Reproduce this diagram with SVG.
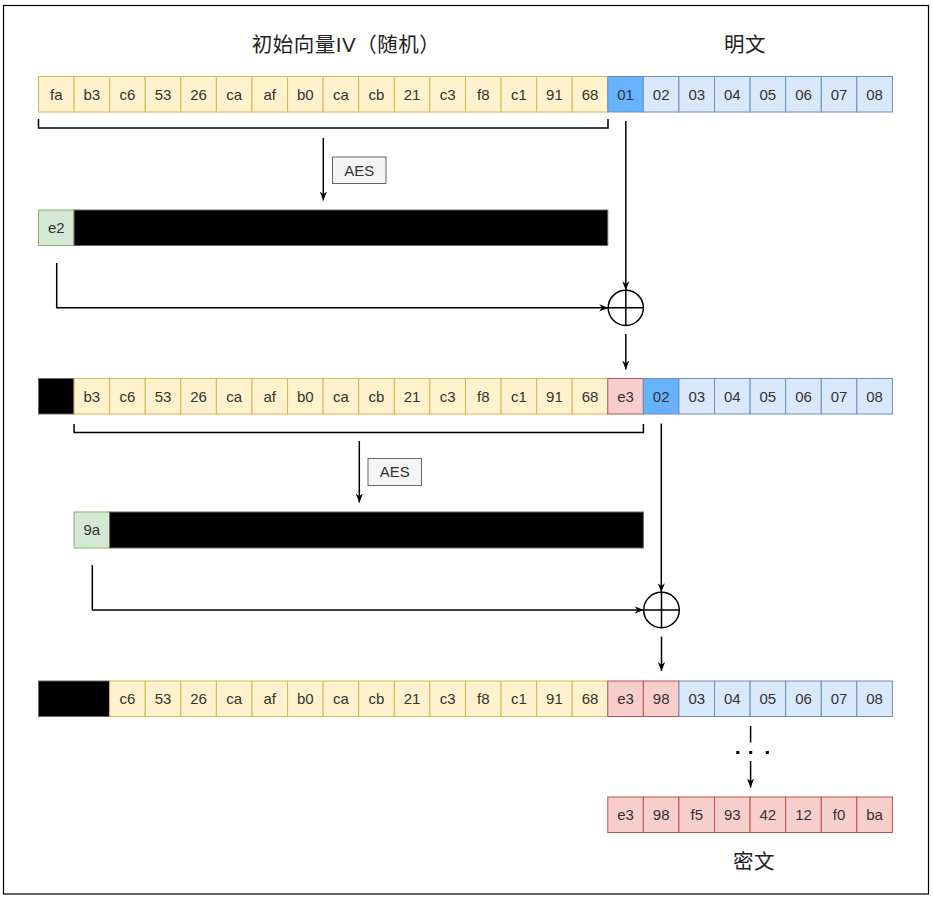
<svg xmlns="http://www.w3.org/2000/svg" width="933" height="897" viewBox="0 0 933 897">
<style>
.y{fill:#fff2cc;stroke:#d6b656;stroke-width:1}
.b{fill:#dae8fc;stroke:#6c8ebf;stroke-width:1}
.d{fill:#66b2ff;stroke:#6c8ebf;stroke-width:1}
.r{fill:#f8cecc;stroke:#b85450;stroke-width:1}
.g{fill:#d5e8d4;stroke:#82b366;stroke-width:1}
.k{fill:#000000;stroke:#666666;stroke-width:1}
.a{fill:#f5f5f5;stroke:#666666;stroke-width:1}
text{font-family:"Liberation Sans","Noto Sans CJK SC",sans-serif;fill:#333333}
.t{font-size:15px;text-anchor:middle}
.h{font-size:20.5px;text-anchor:middle;fill:#222222;letter-spacing:0.5px}
.c{fill:none;stroke:#000000;stroke-width:1.5}
.x{fill:#ffffff;stroke:#000000;stroke-width:1.5}
</style>
<defs>
<marker id="arr" markerUnits="userSpaceOnUse" viewBox="0 0 10 8" refX="10" refY="4" markerWidth="9" markerHeight="7.5" orient="auto">
<path d="M0,0 L10,4 L0,8 L3,4 z" fill="#000000"/>
</marker>
</defs>
<rect x="3.5" y="5.5" width="925" height="888.5" fill="#ffffff" stroke="#000000" stroke-width="1.2"/>

<g id="labels">
<text class="h" x="346" y="52">初始向量IV（随机）</text>
<text class="h" x="745" y="52">明文</text>
<text class="h" x="754" y="869">密文</text>
</g>

<g id="row1">
<g id="r1c0"><rect class="y" x="38.5" y="76.5" width="35.58" height="35.5"/><text class="t" x="56.29" y="99.5">fa</text></g>
<g id="r1c1"><rect class="y" x="74.08" y="76.5" width="35.58" height="35.5"/><text class="t" x="91.87" y="99.5">b3</text></g>
<g id="r1c2"><rect class="y" x="109.66" y="76.5" width="35.58" height="35.5"/><text class="t" x="127.45" y="99.5">c6</text></g>
<g id="r1c3"><rect class="y" x="145.24" y="76.5" width="35.58" height="35.5"/><text class="t" x="163.03" y="99.5">53</text></g>
<g id="r1c4"><rect class="y" x="180.82" y="76.5" width="35.58" height="35.5"/><text class="t" x="198.61" y="99.5">26</text></g>
<g id="r1c5"><rect class="y" x="216.4" y="76.5" width="35.58" height="35.5"/><text class="t" x="234.19" y="99.5">ca</text></g>
<g id="r1c6"><rect class="y" x="251.98" y="76.5" width="35.58" height="35.5"/><text class="t" x="269.77" y="99.5">af</text></g>
<g id="r1c7"><rect class="y" x="287.56" y="76.5" width="35.58" height="35.5"/><text class="t" x="305.35" y="99.5">b0</text></g>
<g id="r1c8"><rect class="y" x="323.14" y="76.5" width="35.58" height="35.5"/><text class="t" x="340.93" y="99.5">ca</text></g>
<g id="r1c9"><rect class="y" x="358.72" y="76.5" width="35.58" height="35.5"/><text class="t" x="376.51" y="99.5">cb</text></g>
<g id="r1c10"><rect class="y" x="394.3" y="76.5" width="35.58" height="35.5"/><text class="t" x="412.09" y="99.5">21</text></g>
<g id="r1c11"><rect class="y" x="429.88" y="76.5" width="35.58" height="35.5"/><text class="t" x="447.67" y="99.5">c3</text></g>
<g id="r1c12"><rect class="y" x="465.46" y="76.5" width="35.58" height="35.5"/><text class="t" x="483.25" y="99.5">f8</text></g>
<g id="r1c13"><rect class="y" x="501.04" y="76.5" width="35.58" height="35.5"/><text class="t" x="518.83" y="99.5">c1</text></g>
<g id="r1c14"><rect class="y" x="536.62" y="76.5" width="35.58" height="35.5"/><text class="t" x="554.41" y="99.5">91</text></g>
<g id="r1c15"><rect class="y" x="572.2" y="76.5" width="35.58" height="35.5"/><text class="t" x="589.99" y="99.5">68</text></g>
<g id="r1c16"><rect class="d" x="607.78" y="76.5" width="35.58" height="35.5"/><text class="t" x="625.57" y="99.5">01</text></g>
<g id="r1c17"><rect class="b" x="643.36" y="76.5" width="35.58" height="35.5"/><text class="t" x="661.15" y="99.5">02</text></g>
<g id="r1c18"><rect class="b" x="678.94" y="76.5" width="35.58" height="35.5"/><text class="t" x="696.73" y="99.5">03</text></g>
<g id="r1c19"><rect class="b" x="714.52" y="76.5" width="35.58" height="35.5"/><text class="t" x="732.31" y="99.5">04</text></g>
<g id="r1c20"><rect class="b" x="750.1" y="76.5" width="35.58" height="35.5"/><text class="t" x="767.89" y="99.5">05</text></g>
<g id="r1c21"><rect class="b" x="785.68" y="76.5" width="35.58" height="35.5"/><text class="t" x="803.47" y="99.5">06</text></g>
<g id="r1c22"><rect class="b" x="821.26" y="76.5" width="35.58" height="35.5"/><text class="t" x="839.05" y="99.5">07</text></g>
<g id="r1c23"><rect class="b" x="856.84" y="76.5" width="35.58" height="35.5"/><text class="t" x="874.63" y="99.5">08</text></g>
</g>

<g id="aes1"><rect class="a" x="332.5" y="157" width="53.5" height="26.5"/><text class="t" x="359.25" y="175.5">AES</text></g>

<g id="ks1">
<g id="ks1e2"><rect class="g" x="38.5" y="210" width="35.58" height="35.5"/><text class="t" x="56.29" y="233">e2</text></g>
<g id="ks1black"><rect class="k" x="74.08" y="210" width="533.7" height="35.5"/></g>
</g>

<g id="xor1"><circle class="x" cx="625.8" cy="307.8" r="17.6"/><path class="c" d="M608.2,307.8 H643.4 M625.8,290.2 V325.4"/></g>

<g id="row2">
<g id="r2c0"><rect class="k" x="38.5" y="378.5" width="35.58" height="35.5"/></g>
<g id="r2c1"><rect class="y" x="74.08" y="378.5" width="35.58" height="35.5"/><text class="t" x="91.87" y="401.5">b3</text></g>
<g id="r2c2"><rect class="y" x="109.66" y="378.5" width="35.58" height="35.5"/><text class="t" x="127.45" y="401.5">c6</text></g>
<g id="r2c3"><rect class="y" x="145.24" y="378.5" width="35.58" height="35.5"/><text class="t" x="163.03" y="401.5">53</text></g>
<g id="r2c4"><rect class="y" x="180.82" y="378.5" width="35.58" height="35.5"/><text class="t" x="198.61" y="401.5">26</text></g>
<g id="r2c5"><rect class="y" x="216.4" y="378.5" width="35.58" height="35.5"/><text class="t" x="234.19" y="401.5">ca</text></g>
<g id="r2c6"><rect class="y" x="251.98" y="378.5" width="35.58" height="35.5"/><text class="t" x="269.77" y="401.5">af</text></g>
<g id="r2c7"><rect class="y" x="287.56" y="378.5" width="35.58" height="35.5"/><text class="t" x="305.35" y="401.5">b0</text></g>
<g id="r2c8"><rect class="y" x="323.14" y="378.5" width="35.58" height="35.5"/><text class="t" x="340.93" y="401.5">ca</text></g>
<g id="r2c9"><rect class="y" x="358.72" y="378.5" width="35.58" height="35.5"/><text class="t" x="376.51" y="401.5">cb</text></g>
<g id="r2c10"><rect class="y" x="394.3" y="378.5" width="35.58" height="35.5"/><text class="t" x="412.09" y="401.5">21</text></g>
<g id="r2c11"><rect class="y" x="429.88" y="378.5" width="35.58" height="35.5"/><text class="t" x="447.67" y="401.5">c3</text></g>
<g id="r2c12"><rect class="y" x="465.46" y="378.5" width="35.58" height="35.5"/><text class="t" x="483.25" y="401.5">f8</text></g>
<g id="r2c13"><rect class="y" x="501.04" y="378.5" width="35.58" height="35.5"/><text class="t" x="518.83" y="401.5">c1</text></g>
<g id="r2c14"><rect class="y" x="536.62" y="378.5" width="35.58" height="35.5"/><text class="t" x="554.41" y="401.5">91</text></g>
<g id="r2c15"><rect class="y" x="572.2" y="378.5" width="35.58" height="35.5"/><text class="t" x="589.99" y="401.5">68</text></g>
<g id="r2c16"><rect class="r" x="607.78" y="378.5" width="35.58" height="35.5"/><text class="t" x="625.57" y="401.5">e3</text></g>
<g id="r2c17"><rect class="d" x="643.36" y="378.5" width="35.58" height="35.5"/><text class="t" x="661.15" y="401.5">02</text></g>
<g id="r2c18"><rect class="b" x="678.94" y="378.5" width="35.58" height="35.5"/><text class="t" x="696.73" y="401.5">03</text></g>
<g id="r2c19"><rect class="b" x="714.52" y="378.5" width="35.58" height="35.5"/><text class="t" x="732.31" y="401.5">04</text></g>
<g id="r2c20"><rect class="b" x="750.1" y="378.5" width="35.58" height="35.5"/><text class="t" x="767.89" y="401.5">05</text></g>
<g id="r2c21"><rect class="b" x="785.68" y="378.5" width="35.58" height="35.5"/><text class="t" x="803.47" y="401.5">06</text></g>
<g id="r2c22"><rect class="b" x="821.26" y="378.5" width="35.58" height="35.5"/><text class="t" x="839.05" y="401.5">07</text></g>
<g id="r2c23"><rect class="b" x="856.84" y="378.5" width="35.58" height="35.5"/><text class="t" x="874.63" y="401.5">08</text></g>
</g>

<g id="aes2"><rect class="a" x="368" y="458.5" width="53.5" height="27"/><text class="t" x="394.75" y="477.2">AES</text></g>

<g id="ks2">
<g id="ks2n9a"><rect class="g" x="74.08" y="512" width="35.58" height="36"/><text class="t" x="91.87" y="535.2">9a</text></g>
<g id="ks2black"><rect class="k" x="109.66" y="512" width="533.7" height="36"/></g>
</g>

<g id="xor2"><circle class="x" cx="661.5" cy="610" r="17.8"/><path class="c" d="M643.7,610 H679.3 M661.5,592.2 V627.8"/></g>

<g id="row3">
<g id="r3c0"><rect class="k" x="38.5" y="681" width="71.16" height="35.5"/></g>
<g id="r3c2"><rect class="y" x="109.66" y="681" width="35.58" height="35.5"/><text class="t" x="127.45" y="704">c6</text></g>
<g id="r3c3"><rect class="y" x="145.24" y="681" width="35.58" height="35.5"/><text class="t" x="163.03" y="704">53</text></g>
<g id="r3c4"><rect class="y" x="180.82" y="681" width="35.58" height="35.5"/><text class="t" x="198.61" y="704">26</text></g>
<g id="r3c5"><rect class="y" x="216.4" y="681" width="35.58" height="35.5"/><text class="t" x="234.19" y="704">ca</text></g>
<g id="r3c6"><rect class="y" x="251.98" y="681" width="35.58" height="35.5"/><text class="t" x="269.77" y="704">af</text></g>
<g id="r3c7"><rect class="y" x="287.56" y="681" width="35.58" height="35.5"/><text class="t" x="305.35" y="704">b0</text></g>
<g id="r3c8"><rect class="y" x="323.14" y="681" width="35.58" height="35.5"/><text class="t" x="340.93" y="704">ca</text></g>
<g id="r3c9"><rect class="y" x="358.72" y="681" width="35.58" height="35.5"/><text class="t" x="376.51" y="704">cb</text></g>
<g id="r3c10"><rect class="y" x="394.3" y="681" width="35.58" height="35.5"/><text class="t" x="412.09" y="704">21</text></g>
<g id="r3c11"><rect class="y" x="429.88" y="681" width="35.58" height="35.5"/><text class="t" x="447.67" y="704">c3</text></g>
<g id="r3c12"><rect class="y" x="465.46" y="681" width="35.58" height="35.5"/><text class="t" x="483.25" y="704">f8</text></g>
<g id="r3c13"><rect class="y" x="501.04" y="681" width="35.58" height="35.5"/><text class="t" x="518.83" y="704">c1</text></g>
<g id="r3c14"><rect class="y" x="536.62" y="681" width="35.58" height="35.5"/><text class="t" x="554.41" y="704">91</text></g>
<g id="r3c15"><rect class="y" x="572.2" y="681" width="35.58" height="35.5"/><text class="t" x="589.99" y="704">68</text></g>
<g id="r3c16"><rect class="r" x="607.78" y="681" width="35.58" height="35.5"/><text class="t" x="625.57" y="704">e3</text></g>
<g id="r3c17"><rect class="r" x="643.36" y="681" width="35.58" height="35.5"/><text class="t" x="661.15" y="704">98</text></g>
<g id="r3c18"><rect class="b" x="678.94" y="681" width="35.58" height="35.5"/><text class="t" x="696.73" y="704">03</text></g>
<g id="r3c19"><rect class="b" x="714.52" y="681" width="35.58" height="35.5"/><text class="t" x="732.31" y="704">04</text></g>
<g id="r3c20"><rect class="b" x="750.1" y="681" width="35.58" height="35.5"/><text class="t" x="767.89" y="704">05</text></g>
<g id="r3c21"><rect class="b" x="785.68" y="681" width="35.58" height="35.5"/><text class="t" x="803.47" y="704">06</text></g>
<g id="r3c22"><rect class="b" x="821.26" y="681" width="35.58" height="35.5"/><text class="t" x="839.05" y="704">07</text></g>
<g id="r3c23"><rect class="b" x="856.84" y="681" width="35.58" height="35.5"/><text class="t" x="874.63" y="704">08</text></g>
</g>

<g id="cipher">
<g id="ct0"><rect class="r" x="607.78" y="797" width="35.58" height="35.5"/><text class="t" x="625.57" y="820">e3</text></g>
<g id="ct1"><rect class="r" x="643.36" y="797" width="35.58" height="35.5"/><text class="t" x="661.15" y="820">98</text></g>
<g id="ct2"><rect class="r" x="678.94" y="797" width="35.58" height="35.5"/><text class="t" x="696.73" y="820">f5</text></g>
<g id="ct3"><rect class="r" x="714.52" y="797" width="35.58" height="35.5"/><text class="t" x="732.31" y="820">93</text></g>
<g id="ct4"><rect class="r" x="750.1" y="797" width="35.58" height="35.5"/><text class="t" x="767.89" y="820">42</text></g>
<g id="ct5"><rect class="r" x="785.68" y="797" width="35.58" height="35.5"/><text class="t" x="803.47" y="820">12</text></g>
<g id="ct6"><rect class="r" x="821.26" y="797" width="35.58" height="35.5"/><text class="t" x="839.05" y="820">f0</text></g>
<g id="ct7"><rect class="r" x="856.84" y="797" width="35.58" height="35.5"/><text class="t" x="874.63" y="820">ba</text></g>
</g>

<g id="connectors">
<path class="c" d="M38.5,119 V128 H608 V119"/>
<path class="c" d="M323.3,138 V200.5" marker-end="url(#arr)"/>
<path class="c" d="M56.7,263 V307.8 H608.2" marker-end="url(#arr)"/>
<path class="c" d="M625.8,121 V290.2" marker-end="url(#arr)"/>
<path class="c" d="M625.8,334 V369.5" marker-end="url(#arr)"/>
<path class="c" d="M74.08,424 V432.5 H643.4 V424"/>
<path class="c" d="M359.3,441 V502.5" marker-end="url(#arr)"/>
<path class="c" d="M92.3,565 V610 H643.7" marker-end="url(#arr)"/>
<path class="c" d="M661.3,423.5 V592.2" marker-end="url(#arr)"/>
<path class="c" d="M661.5,636.5 V671" marker-end="url(#arr)"/>
<path class="c" d="M750.6,726 V742.5"/>
<rect x="736.3" y="751" width="3" height="3" fill="#000000"/>
<rect x="749.2" y="751" width="3" height="3" fill="#000000"/>
<rect x="765.8" y="751" width="3" height="3" fill="#000000"/>
<path class="c" d="M750.6,761 V787.5" marker-end="url(#arr)"/>
</g>
</svg>
